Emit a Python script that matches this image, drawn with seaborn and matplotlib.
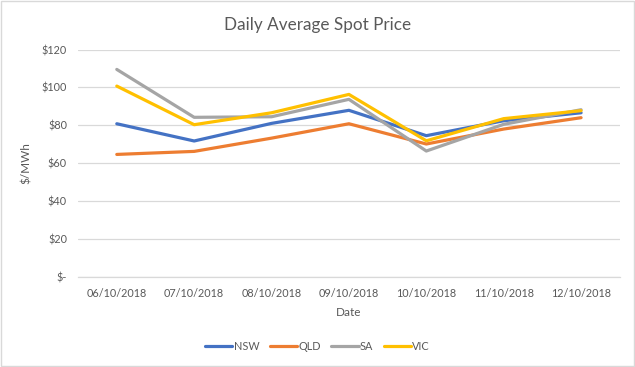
import matplotlib
matplotlib.use("Agg")
import matplotlib.pyplot as plt
import seaborn as sns
import pandas as pd
import numpy as np
from matplotlib.ticker import FixedLocator, FuncFormatter

dates = ["06/10/2018", "07/10/2018", "08/10/2018", "09/10/2018",
         "10/10/2018", "11/10/2018", "12/10/2018"]
nsw = [80.8, 71.7, 81.0, 87.9, 74.5, 82.4, 86.6]
qld = [64.6, 66.2, 73.2, 80.8, 70.1, 78.0, 84.0]
sa = [109.5, 84.2, 84.5, 93.7, 66.4, 80.5, 88.2]
vic = [100.7, 80.3, 86.6, 96.3, 71.8, 83.5, 87.7]
regions = ["NSW", "QLD", "SA", "VIC"]
colors = ["#4472C4", "#ED7D31", "#A5A5A5", "#FFC000"]
yticks = [0, 20, 40, 60, 80, 100, 120]

rows = []
for reg, vals in zip(regions, [nsw, qld, sa, vic]):
    for d, v in zip(dates, vals):
        rows.append({"Date": d, "Price": v, "Region": reg})
df = pd.DataFrame(rows)

sns.set_theme(style="white")
plt.rcParams['font.family'] = ['Lato', 'DejaVu Sans']

fig = plt.figure(figsize=(6.35, 3.67), dpi=100)
ax = fig.add_axes([0.123, 0.246, 0.853, 0.619])

sns.lineplot(data=df, x="Date", y="Price", hue="Region", palette=colors,
             hue_order=regions, sort=False, linewidth=2.3, ax=ax,
             legend=True)

txt = "#595959"
ax.set_ylim(0, 120)
ax.set_xlim(-0.5, 6.5)
ax.yaxis.set_major_locator(FixedLocator(yticks))
ax.yaxis.set_major_formatter(FuncFormatter(lambda v, p: "$-" if v == 0 else f"${int(v)}"))
ax.grid(axis="y", color="#D9D9D9", linewidth=0.9)
ax.set_axisbelow(True)
for s in ["top", "right", "left"]:
    ax.spines[s].set_visible(False)
ax.spines["bottom"].set_color("#D9D9D9")
ax.spines["bottom"].set_linewidth(0.9)

ax.set_xticks(range(len(dates)))
ax.set_xticklabels(dates)
ax.xaxis.set_minor_locator(FixedLocator(np.arange(-0.5, 7, 1.0)))
ax.tick_params(axis="x", which="major", length=0, labelsize=7.8, colors=txt, pad=8)
ax.tick_params(axis="x", which="minor", length=5, color="#D9D9D9", width=0.9)
ax.tick_params(axis="y", length=0, labelsize=7.8, colors=txt, pad=8)

ax.set_xlabel("Date", fontsize=8.5, color=txt, labelpad=6)
ax.set_ylabel("$/MWh", fontsize=8.5, color=txt, labelpad=7)

fig.suptitle("Daily Average Spot Price", x=0.5, y=0.955, fontsize=12.3, color=txt)

h, l = ax.get_legend_handles_labels()
ax.legend_.remove()
leg = fig.legend(h, l, loc="center", bbox_to_anchor=(0.5, 0.057), ncol=4,
                 frameon=False, fontsize=7.8, handlelength=2.5, handletextpad=0.1,
                 columnspacing=1.0, labelcolor=txt)
for line in leg.get_lines():
    line.set_linewidth(2.3)

fig.patches.append(plt.Rectangle((0.0015, 0.0015), 0.997, 0.997, transform=fig.transFigure,
                                 fill=False, edgecolor="#D9D9D9", linewidth=1))

fig.savefig("out.png", dpi=100)
